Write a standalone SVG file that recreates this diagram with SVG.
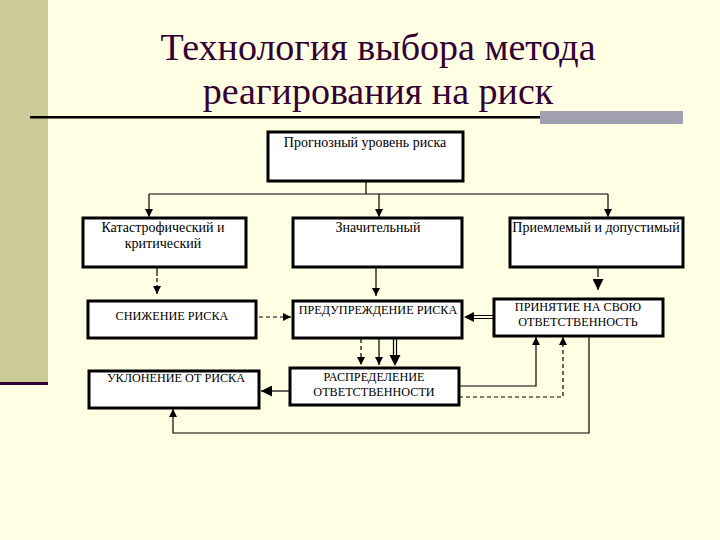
<svg xmlns="http://www.w3.org/2000/svg" width="720" height="540" viewBox="0 0 720 540">
<defs>
<style>
.bg{fill:#FFFFE3}
.title{font-family:'Liberation Serif','Times New Roman',serif;font-size:38px;fill:#330033;text-anchor:middle}
.box{fill:#FFFFFF;stroke:#000;stroke-width:3}
.t{font-family:'Liberation Serif','Times New Roman',serif;font-size:14px;fill:#000;text-anchor:middle}
.u{font-family:'Liberation Serif','Times New Roman',serif;font-size:12.2px;fill:#000;text-anchor:middle}
.c{fill:none;stroke:#000;stroke-width:1.2}
.d{fill:none;stroke:#000;stroke-width:1.2;stroke-dasharray:4 3}
</style>
<marker id="a" viewBox="0 0 10 10" refX="10" refY="5" markerWidth="8" markerHeight="8" markerUnits="userSpaceOnUse" orient="auto"><path d="M0,0 L10,5 L0,10 z" fill="#000"/></marker>
<marker id="ab" viewBox="0 0 10 10" refX="10" refY="5" markerWidth="11" markerHeight="11" markerUnits="userSpaceOnUse" orient="auto"><path d="M0,0 L10,5 L0,10 z" fill="#000"/></marker>
</defs>
<rect class="bg" x="0" y="0" width="720" height="540"/>
<rect x="0" y="0" width="48" height="382" fill="#CCCC99"/>
<rect x="0" y="382" width="48" height="3" fill="#330033"/>
<text class="title" x="378" y="60">Технология выбора метода</text>
<text class="title" x="378" y="104">реагирования на риск</text>
<rect x="30" y="116" width="512" height="2.5" fill="#000"/>
<rect x="540" y="111" width="143" height="13" fill="#A0A0B0"/>

<g id="connectors">
<path class="c" d="M366,182 V194 M149,194 H608"/>
<path class="c" d="M149,194 V217" marker-end="url(#a)"/>
<path class="c" d="M379,194 V217" stroke-width="2" marker-end="url(#a)"/>
<path class="c" d="M608,194 V217" marker-end="url(#a)"/>
<path class="c" d="M157,268 V276" stroke-width="2.5"/>
<path class="d" d="M157,278 V294" marker-end="url(#a)"/>
<path class="c" d="M376,268 V296" stroke-width="2" marker-end="url(#a)"/>
<path class="c" d="M598,268 V277" stroke-width="3"/>
<path class="c" d="M598,279 V290" stroke-width="2" marker-end="url(#ab)"/>
<path class="d" d="M259,317 H291" marker-end="url(#a)"/>
<path class="c" d="M494,315.5 H470 M494,318.5 H470"/>
<path d="M464,317 L474,312 L474,322 z" fill="#000"/>
<path class="d" d="M361,339 V365" marker-end="url(#a)"/>
<path class="c" d="M379,339 V365" stroke-width="2" marker-end="url(#a)"/>
<path class="c" d="M393.5,339 V356 M396.5,339 V356"/>
<path d="M395,366 L389.5,355 L400.5,355 z" fill="#000"/>
<path class="c" d="M290,391 H261" stroke-width="3.5" marker-end="url(#ab)"/>
<path class="c" d="M459,386 H536 V337" marker-end="url(#a)"/>
<path class="d" d="M459,397 H563 V337" stroke-width="1.6" marker-end="url(#a)"/>
<path class="c" d="M589,336 V433 H173 V409" marker-end="url(#a)"/>
</g>

<g id="n-forecast"><rect class="box" x="268" y="132" width="195" height="49" stroke-width="4"/><text class="t" x="365" y="147">Прогнозный уровень риска</text></g>
<g id="n-catastrophic"><rect class="box" x="83" y="218" width="163" height="49"/><text class="t" x="163" y="232">Катастрофический и</text><text class="t" x="163" y="248">критический</text></g>
<g id="n-significant"><rect class="box" x="293" y="218" width="169" height="49"/><text class="t" x="378" y="232">Значительный</text></g>
<g id="n-acceptable"><rect class="box" x="510" y="218" width="173" height="49"/><text class="t" x="596" y="232">Приемлемый и допустимый</text></g>
<g id="n-reduce"><rect class="box" x="88" y="301" width="168" height="37"/><text class="u" x="172" y="320">СНИЖЕНИЕ РИСКА</text></g>
<g id="n-prevent"><rect class="box" x="293" y="301" width="169" height="37"/><text class="u" x="378" y="314">ПРЕДУПРЕЖДЕНИЕ РИСКА</text></g>
<g id="n-accept"><rect class="box" x="494" y="299" width="169" height="37"/><text class="u" x="578" y="311">ПРИНЯТИЕ НА СВОЮ</text><text class="u" x="578" y="326">ОТВЕТСТВЕННОСТЬ</text></g>
<g id="n-avoid"><rect class="box" x="89" y="371" width="170" height="37"/><text class="u" x="176" y="382">УКЛОНЕНИЕ ОТ РИСКА</text></g>
<g id="n-distribute"><rect class="box" x="290" y="368" width="169" height="37"/><text class="u" x="374" y="381">РАСПРЕДЕЛЕНИЕ</text><text class="u" x="374" y="396">ОТВЕТСТВЕННОСТИ</text></g>
</svg>
